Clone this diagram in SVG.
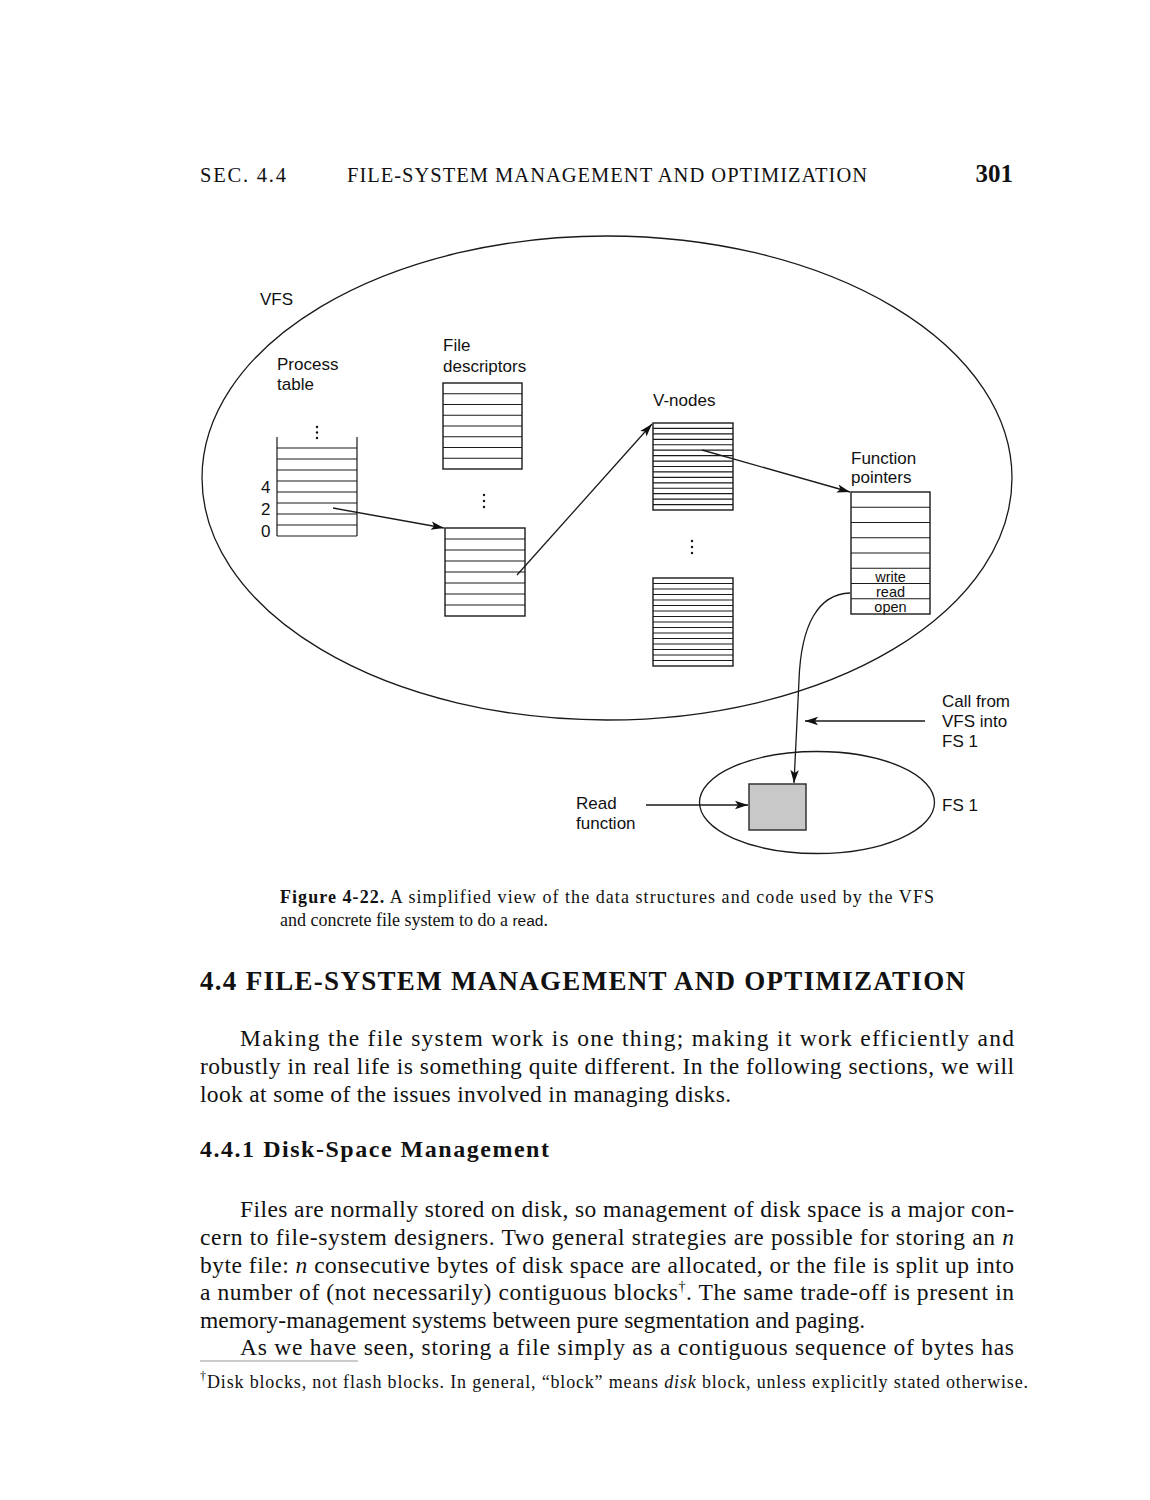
<svg xmlns="http://www.w3.org/2000/svg" width="1150" height="1500" viewBox="0 0 1150 1500">
<style>
.ln{stroke:#1a1a1a;stroke-width:1.3;fill:none}
.box{stroke:#1a1a1a;stroke-width:1.4;fill:#fff}
.rows{stroke:#1a1a1a;stroke-width:1.2;fill:none}
.sans{font-family:"Liberation Sans",Arial,sans-serif;font-size:17px;fill:#111}
.fp{font-family:"Liberation Sans",Arial,sans-serif;font-size:14.5px;fill:#111}
.serif{font-family:"Liberation Serif","Times New Roman",serif;fill:#111}
.body{font-family:"Liberation Serif","Times New Roman",serif;font-size:23.5px;fill:#111}
.dot{fill:#111}
</style>
<defs>
<marker id="ah" markerUnits="userSpaceOnUse" markerWidth="14" markerHeight="10" refX="13" refY="5" orient="auto">
<path d="M0,0.8 L13,5 L0,9.2 L3,5 Z" fill="#111"/>
</marker>
</defs>
<rect width="1150" height="1500" fill="#fff"/>

<!-- page header -->
<g id="header">
<text class="serif" x="200" y="182" font-size="20.5" textLength="86" lengthAdjust="spacing">SEC. 4.4</text>
<text class="serif" x="347" y="182" font-size="20.5" textLength="520" lengthAdjust="spacing">FILE-SYSTEM MANAGEMENT AND OPTIMIZATION</text>
<text class="serif" x="1013" y="182" font-size="25" font-weight="bold" text-anchor="end">301</text>
</g>

<!-- VFS ellipse -->
<g id="vfs">
<ellipse cx="607" cy="478" rx="405" ry="242" class="ln"/>
<text class="sans" x="260" y="305">VFS</text>
</g>

<!-- Process table -->
<g id="process-table">
<text class="sans" x="277" y="370">Process</text>
<text class="sans" x="277" y="390">table</text>
<path class="rows" d="M277,437 V536 M357,437 V536 M277,448 H357 M277,459 H357 M277,470 H357 M277,481 H357 M277,492 H357 M277,503 H357 M277,514 H357 M277,525 H357 M277,536 H357"/>
<circle class="dot" cx="317" cy="427" r="1.2"/><circle class="dot" cx="317" cy="432.5" r="1.2"/><circle class="dot" cx="317" cy="438" r="1.2"/>
<text class="sans" x="261" y="493">4</text>
<text class="sans" x="261" y="515">2</text>
<text class="sans" x="261" y="537">0</text>
</g>

<!-- File descriptors -->
<g id="file-descriptors">
<text class="sans" x="443" y="351">File</text>
<text class="sans" x="443" y="372">descriptors</text>
<rect class="box" x="443" y="383" width="79" height="86"/>
<path class="rows" d="M443,393.75 H522 M443,404.5 H522 M443,415.25 H522 M443,426 H522 M443,436.75 H522 M443,447.5 H522 M443,458.25 H522"/>
<circle class="dot" cx="484" cy="495" r="1.2"/><circle class="dot" cx="484" cy="501" r="1.2"/><circle class="dot" cx="484" cy="507" r="1.2"/>
</g>
<g id="file-descriptors-2">
<rect class="box" x="445" y="528" width="80" height="88"/>
<path class="rows" d="M445,539 H525 M445,550 H525 M445,561 H525 M445,572 H525 M445,583 H525 M445,594 H525 M445,605 H525"/>
</g>

<!-- V-nodes -->
<g id="v-nodes">
<text class="sans" x="653" y="406">V-nodes</text>
<rect class="box" x="653" y="423" width="80" height="87"/>
<path class="rows" d="M653,428.44 H733 M653,433.88 H733 M653,439.31 H733 M653,444.75 H733 M653,450.19 H733 M653,455.63 H733 M653,461.06 H733 M653,466.5 H733 M653,471.94 H733 M653,477.38 H733 M653,482.81 H733 M653,488.25 H733 M653,493.69 H733 M653,499.13 H733 M653,504.56 H733"/>
<circle class="dot" cx="692" cy="541" r="1.2"/><circle class="dot" cx="692" cy="547" r="1.2"/><circle class="dot" cx="692" cy="553" r="1.2"/>
</g>
<g id="v-nodes-2">
<rect class="box" x="653" y="578" width="80" height="88"/>
<path class="rows" d="M653,583.5 H733 M653,589 H733 M653,594.5 H733 M653,600 H733 M653,605.5 H733 M653,611 H733 M653,616.5 H733 M653,622 H733 M653,627.5 H733 M653,633 H733 M653,638.5 H733 M653,644 H733 M653,649.5 H733 M653,655 H733 M653,660.5 H733"/>
</g>

<!-- Function pointers -->
<g id="function-pointers">
<text class="sans" x="851" y="464">Function</text>
<text class="sans" x="851" y="483">pointers</text>
<rect class="box" x="851" y="492" width="79" height="122"/>
<path class="rows" d="M851,507.25 H930 M851,522.5 H930 M851,537.75 H930 M851,553 H930 M851,568.25 H930 M851,583.5 H930 M851,598.75 H930"/>
<text class="fp" x="890.5" y="582" text-anchor="middle">write</text>
<text class="fp" x="890.5" y="597" text-anchor="middle">read</text>
<text class="fp" x="890.5" y="611.5" text-anchor="middle">open</text>
</g>

<!-- FS 1 -->
<g id="fs1">
<ellipse cx="817" cy="802.5" rx="117.5" ry="51" class="ln"/>
<rect x="749" y="784" width="57" height="46" fill="#c8c8c8" stroke="#333" stroke-width="1.5"/>
<text class="sans" x="942" y="811">FS 1</text>
</g>

<g id="call-label">
<text class="sans" x="942" y="707">Call from</text>
<text class="sans" x="942" y="727">VFS into</text>
<text class="sans" x="942" y="747">FS 1</text>
</g>
<g id="read-label">
<text class="sans" x="576" y="809">Read</text>
<text class="sans" x="576" y="829">function</text>
</g>

<!-- connectors -->
<g id="connectors">
<path class="ln" d="M333,508 L444,528" marker-end="url(#ah)"/>
<path class="ln" d="M517,575 L652,424" marker-end="url(#ah)"/>
<path class="ln" d="M702,450 L850,492" marker-end="url(#ah)"/>
<path class="ln" d="M850,593 C818,594 801,625 799,680 L794,783" marker-end="url(#ah)"/>
<path class="ln" d="M925,721 L805,721" marker-end="url(#ah)"/>
<path class="ln" d="M646,805 L748,805" marker-end="url(#ah)"/>
</g>

<!-- caption -->
<g id="caption">
<text class="serif" x="280" y="903" font-size="18" textLength="654" lengthAdjust="spacing"><tspan font-weight="bold">Figure 4-22.</tspan>  A simplified view of the data structures and code used by the VFS</text>
<text class="serif" x="280" y="926" font-size="18">and concrete file system to do a <tspan font-family="Liberation Sans, Arial, sans-serif" font-size="15.5">read</tspan>.</text>
</g>

<!-- text body -->
<g id="body">
<text class="serif" x="200" y="990" font-size="27" font-weight="bold" textLength="765" lengthAdjust="spacing">4.4  FILE-SYSTEM MANAGEMENT AND OPTIMIZATION</text>
<text class="body" x="240" y="1046" textLength="774" lengthAdjust="spacing">Making the file system work is one thing; making it work efficiently and</text>
<text class="body" x="200" y="1074" textLength="814" lengthAdjust="spacing">robustly in real life is something quite different.  In the following sections, we will</text>
<text class="body" x="200" y="1102" textLength="531" lengthAdjust="spacing">look at some of the issues involved in managing disks.</text>
<text class="serif" x="200" y="1157" font-size="24" font-weight="bold" textLength="349" lengthAdjust="spacing">4.4.1  Disk-Space Management</text>
<text class="body" x="240" y="1217" textLength="774" lengthAdjust="spacing">Files are normally stored on disk, so management of disk space is a major con-</text>
<text class="body" x="200" y="1245" textLength="814" lengthAdjust="spacing">cern to file-system designers. Two general strategies are possible for storing an <tspan font-style="italic">n</tspan></text>
<text class="body" x="200" y="1273" textLength="814" lengthAdjust="spacing">byte file: <tspan font-style="italic">n</tspan> consecutive bytes of disk space are allocated, or the file is split up into</text>
<text class="body" x="200" y="1300" textLength="814" lengthAdjust="spacing">a number of (not necessarily) contiguous blocks<tspan font-size="14" dy="-9">†</tspan><tspan dy="9">. The same trade-off is present in</tspan></text>
<text class="body" x="200" y="1328" textLength="665" lengthAdjust="spacing">memory-management systems between pure segmentation and paging.</text>
<text class="body" x="240" y="1355" textLength="774" lengthAdjust="spacing">As we have seen, storing a file simply as a contiguous sequence of bytes has</text>
<line x1="200" y1="1361" x2="358" y2="1361" stroke="#999" stroke-width="1"/>
<text class="serif" x="200" y="1380" font-size="12">†</text>
<text class="serif" x="207" y="1388" font-size="18" textLength="821" lengthAdjust="spacing">Disk blocks, not flash blocks. In general, “block” means <tspan font-style="italic">disk</tspan> block, unless explicitly stated otherwise.</text>
</g>
</svg>
